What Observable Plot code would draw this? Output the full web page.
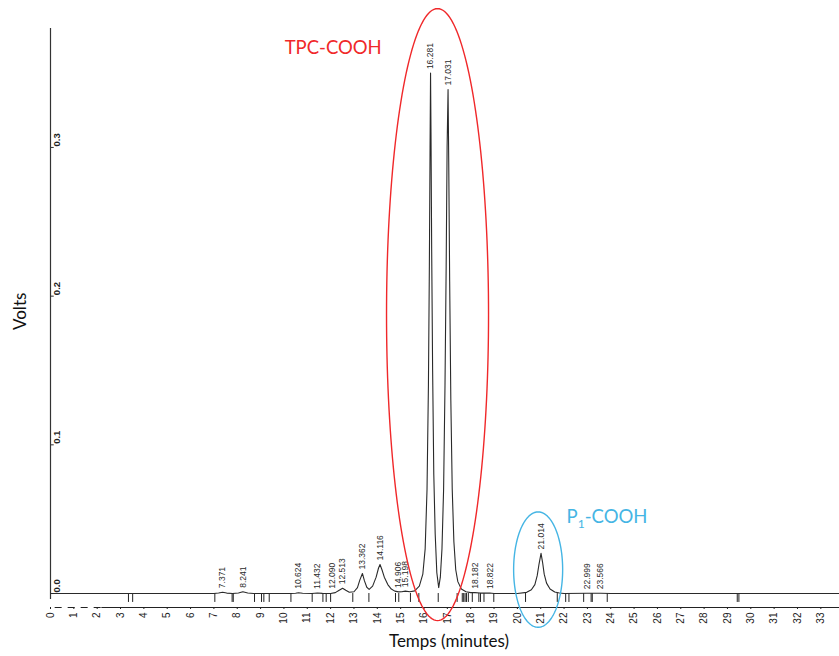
<!DOCTYPE html>
<html><head><meta charset="utf-8">
<script src="https://cdn.jsdelivr.net/npm/d3@7"></script>
<script src="https://cdn.jsdelivr.net/npm/@observablehq/plot@0.6"></script>
<style>body{margin:0;background:#fff}</style>
</head><body><div id="chart"></div>
<script>
// Chromatogram trace: [time (min), volts]
const trace = [
  [0,0],[3.3,0],[3.5,0],[7.0,0],[7.2,0.0003],[7.371,0.0009],[7.55,0.0003],[7.8,0],
  [8.05,0.0004],[8.241,0.0012],[8.45,0.0004],[8.7,0],[10.3,0],[10.5,0.0002],[10.624,0.0005],
  [10.8,0.0002],[11.2,0],[11.432,0.0004],[11.65,0.0001],[12.0,0],[12.2,0.0006],[12.35,0.002],
  [12.513,0.0035],[12.65,0.0022],[12.8,0.0009],[13.0,0.0012],[13.15,0.004],[13.25,0.009],
  [13.362,0.0135],[13.45,0.0085],[13.55,0.0042],[13.65,0.0028],[13.8,0.005],[13.95,0.011],
  [14.05,0.017],[14.116,0.0195],[14.2,0.016],[14.3,0.011],[14.45,0.006],[14.6,0.003],
  [14.75,0.0016],[14.906,0.0011],[15.05,0.0012],[15.198,0.0016],[15.4,0.0012],[15.6,0.0018],
  [15.8,0.005],[15.95,0.013],[16.05,0.03],[16.13,0.07],[16.19,0.14],[16.23,0.22],[16.26,0.30],
  [16.281,0.350],[16.30,0.31],[16.33,0.23],[16.37,0.15],[16.42,0.08],[16.48,0.04],[16.55,0.014],
  [16.63,0.004],[16.70,0.011],[16.77,0.03],[16.84,0.07],[16.90,0.14],[16.95,0.22],[16.99,0.30],
  [17.031,0.339],[17.06,0.29],[17.10,0.21],[17.15,0.13],[17.21,0.07],[17.28,0.035],[17.36,0.016],
  [17.45,0.008],[17.6,0.003],[17.8,0.0012],[18.0,0.0006],[18.182,0.0006],[18.4,0.0003],
  [18.822,0.0003],[19.0,0],[20.0,0],[20.4,0.0008],[20.6,0.0025],[20.75,0.006],[20.85,0.012],
  [20.93,0.02],[21.014,0.027],[21.08,0.021],[21.15,0.013],[21.25,0.007],[21.4,0.003],
  [21.6,0.001],[21.8,0.0003],[22.0,0],[22.999,0.0002],[23.566,0.0002],[24,0],[29.4,0],[33.8,0]
];

const peakTimes   = [7.371, 8.241, 10.624, 11.432, 12.090, 12.513, 13.362, 14.116, 14.906, 15.198, 16.281, 17.031, 18.182, 18.822, 21.014, 22.999, 23.566];
const peakHeights = [0.0009, 0.0012, 0.0005, 0.0004, 0.0005, 0.0035, 0.0135, 0.0195, 0.0011, 0.0016, 0.350, 0.339, 0.0006, 0.0003, 0.027, 0.0002, 0.0002];

// integration start/end marks below the baseline (minutes)
const integrationMarks = [3.34, 3.52, 7.04, 7.78, 7.83, 8.74, 9.04, 9.14, 9.37, 10.30, 11.21, 11.67, 11.81, 12.0,
  12.95, 13.64, 14.78, 14.92, 15.42, 15.78, 16.61, 17.42, 17.64, 17.70, 17.76, 17.82, 17.90, 18.07,
  18.35, 18.42, 18.57, 18.99, 20.35, 21.71, 22.07, 22.21, 22.84, 23.16, 23.21, 23.85, 29.42, 29.49];

const xTicks = d3.range(0, 34);
const yTicks = [0, 0.1, 0.2, 0.3];
const yTickLabels = ["0.0", "0.1", "0.2", "0.3"];

// annotations
const groups = [
  {name: "TPC-COOH", color: "#f0282a", cx: 16.58, cy: 0.1876, rx: 2.185, ry: 0.2058, tx: 10.03, ty: 0.367},
  {name: "P1-COOH",  color: "#45b5e4", cx: 20.89, cy: 0.0161, rx: 1.05,  ry: 0.0388, tx: 22.11, ty: 0.0511}
];

const traceData = trace.map(([t, v]) => ({t, v}));
const peaks = peakTimes.map((t, i) => ({t, h: peakHeights[i], label: t.toFixed(3)}));
const ellipses = groups.flatMap(g => d3.range(0, 361, 2).map(a => ({
  name: g.name, color: g.color,
  x: g.cx + g.rx * Math.cos(a * Math.PI / 180),
  y: g.cy + g.ry * Math.sin(a * Math.PI / 180)
})));

const yMin = -0.0094, yMax = 0.38;

const chart = Plot.plot({
  width: 839, height: 656,
  marginTop: 28, marginBottom: 49, marginLeft: 50, marginRight: 0,
  style: {fontFamily: "Liberation Sans, Arial, sans-serif", fontSize: "10px", background: "#fff", color: "#222"},
  x: {domain: [0, 33.8], ticks: xTicks, tickRotate: -90, tickSize: 2, tickPadding: 3, label: null, tickFormat: d => String(d)},
  y: {domain: [yMin, yMax], axis: null},
  marks: [
    // x axis line (dashed at start, then solid)
    Plot.ruleY([yMin], {x1: 0.2, x2: 2.2, stroke: "#222", strokeDasharray: "7,6"}),
    Plot.ruleY([yMin], {x1: 2.2, x2: 33.8, stroke: "#222"}),
    // y axis line and ticks
    Plot.ruleX([0], {y1: -0.004, y2: yMax, stroke: "#333", strokeWidth: 1.2}),
    Plot.ruleY(yTicks, {x1: 0, x2: 0.16, stroke: "#333"}),
    Plot.text(yTicks, {x: 0, y: d => d, text: (d, i) => yTickLabels[i], rotate: -90, textAnchor: "start",
      dx: 6, dy: -1, fontSize: 9.5, fontWeight: "bold", fill: "#222"}),
    // integration marks
    Plot.ruleX(integrationMarks, {y1: 0, y2: -0.006, stroke: "#222", strokeWidth: 1}),
    // chromatogram
    Plot.line(traceData, {x: "t", y: "v", stroke: "#2a2a2a", strokeWidth: 1.1, curve: "linear"}),
    // peak labels
    Plot.text(peaks, {x: "t", y: "h", text: "label", rotate: -90, textAnchor: "start", dy: -4,
      fontSize: 8.5, fill: "#2a2a2a"}),
    // ellipses
    Plot.line(ellipses, {x: "x", y: "y", z: "name", stroke: "color", strokeWidth: 1.4, curve: "linear"}),
    // annotation labels
    Plot.text(groups, {x: "tx", y: "ty", text: "name", fill: "color", textAnchor: "start",
      fontSize: 18.5, fontFamily: "Lato, Open Sans, sans-serif"}),
    // axis titles
    Plot.text(["Temps (minutes)"], {frameAnchor: "bottom", dx: 4, dy: 39, text: d => d,
      fontSize: 17, fontFamily: "Lato, Open Sans, sans-serif", fill: "#111"}),
    Plot.text(["Volts"], {frameAnchor: "left", dx: -30, dy: 12, rotate: -90, text: d => d,
      fontSize: 17, fontFamily: "Lato, Open Sans, sans-serif", fill: "#111"})
  ]
});
document.getElementById("chart").appendChild(chart);

// subscript for P1-COOH
d3.select(chart).selectAll("text").filter(function() { return this.textContent === "P1-COOH"; })
  .each(function() {
    const t = d3.select(this);
    t.text(null);
    t.append("tspan").text("P");
    t.append("tspan").attr("dy", 5).attr("font-size", 12).text("1");
    t.append("tspan").attr("dy", -5).text("-COOH");
  });
</script>
</body></html>
